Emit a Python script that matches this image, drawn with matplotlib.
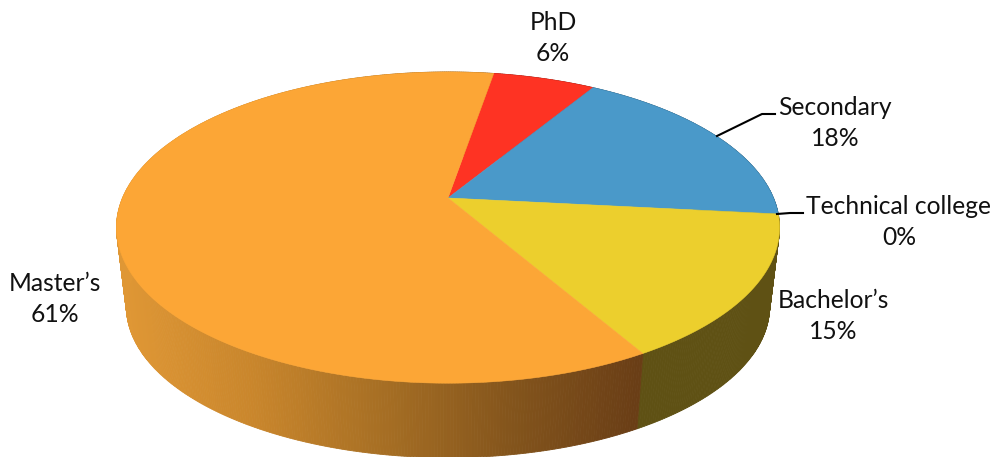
import numpy as np
import matplotlib
matplotlib.use("Agg")
import matplotlib.pyplot as plt
from matplotlib.colors import LinearSegmentedColormap

categories = ["PhD", "Secondary", "Technical college", "Bachelor\u2019s", "Master\u2019s"]
shares = [6, 18, 0, 15, 61]
top_colors = ["#FE3323", "#4A99C9", "#5B9BD5", "#ECCF2D", "#FCA636"]
side_colors = ["#7A1A12", "#25506A", "#25506A", "#5F5114", None]
label_xy = [(553, 38), (835, 123), (899, 222), (833, 316), (55, 299)]

# Projection of the pie disc
START_DEG = 9.6
CX, CY, A, B, K = 448.0, 198.0, 325.5, 150.0, 0.19
BASE_SCALE, DEPTH = 0.97, 80.0


def project(theta):
    u, v = np.sin(theta), np.cos(theta)
    d = 1 + K * v
    return CX + A * u / d, CY - B * v / d


def base(x, y):
    return CX + BASE_SCALE * (x - CX), CY + BASE_SCALE * (y - CY) + DEPTH


plt.rcParams["font.family"] = ["Lato", "DejaVu Sans"]
fig = plt.figure(figsize=(9.92, 4.57), dpi=100)
ax = fig.add_axes([0, 0, 1, 1])
ax.set_xlim(0, 992)
ax.set_ylim(457, 0)
ax.axis("off")

edges = np.radians(START_DEG + 3.6 * np.concatenate([[0], np.cumsum(shares)]))
gradient = LinearSegmentedColormap.from_list(
    "side", ["#DF9735", "#C9862C", "#A76F24", "#84551C", "#6A3E16"])

# side walls
for i, share in enumerate(shares):
    if share == 0:
        continue
    n = max(int(share * 8), 8)
    ts = np.linspace(edges[i], edges[i + 1], n + 1)
    xs, ys = project(ts)
    bx, by = base(xs, ys)
    for j in range(n):
        if side_colors[i] is None:
            c = gradient(np.clip(((xs[j] + xs[j + 1]) / 2 - 120) / 520, 0, 1))
        else:
            c = side_colors[i]
        ax.fill([xs[j], xs[j + 1], bx[j + 1], bx[j]],
                [ys[j], ys[j + 1], by[j + 1], by[j]],
                color=c, lw=0.6, zorder=1)

# top face
for i, share in enumerate(shares):
    if share == 0:
        continue
    ts = np.linspace(edges[i], edges[i + 1], max(int(share * 6), 30))
    xs, ys = project(ts)
    ax.fill(np.r_[CX, xs], np.r_[CY, ys], color=top_colors[i], lw=0.4, zorder=2)

# leader lines
ax.plot([717, 762, 775], [136, 114, 114], color="black", lw=1.5, zorder=3)
ax.plot([777, 790, 803], [214, 213, 213], color="black", lw=1.5, zorder=3)

for name, share, (x, y) in zip(categories, shares, label_xy):
    ax.text(x, y, f"{name}\n{share}%", ha="center", va="center", fontsize=17.7,
            linespacing=1.42, color="#111111", zorder=4)

fig.savefig("out.png", dpi=100)
